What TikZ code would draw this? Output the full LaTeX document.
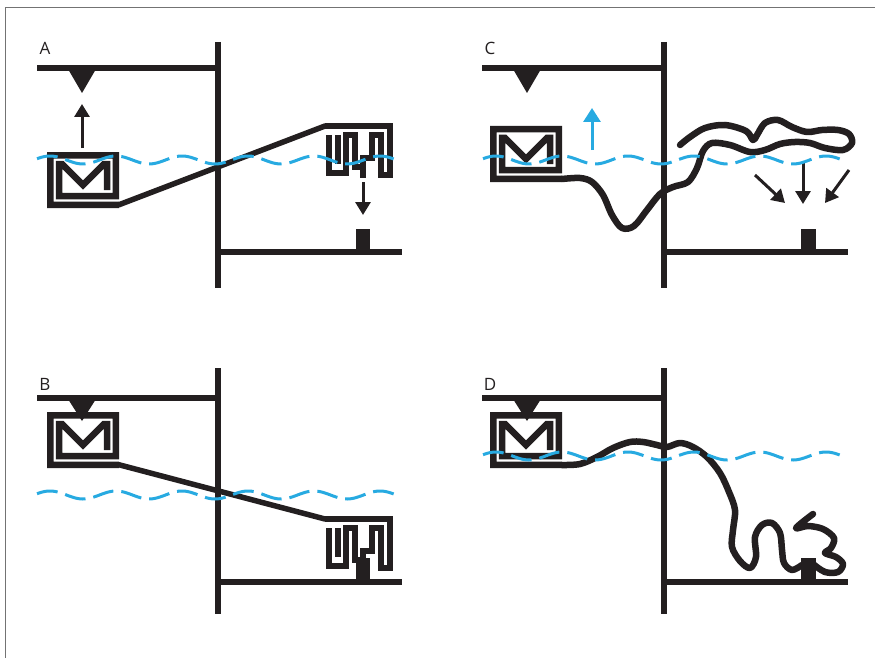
\documentclass[tikz,border=0pt]{standalone}
\usepackage{fontspec}
\setmainfont{Open Sans}
\usetikzlibrary{arrows.meta}
\definecolor{ink}{HTML}{231F20}
\definecolor{sea}{HTML}{27AAE1}
\tikzset{
  bar/.style={draw=ink, line width=6pt},
  tether/.style={draw=ink, line width=5.5pt, line cap=round},
  strand/.style={draw=ink, line width=6.5pt, line cap=round, line join=round},
  wave/.style={draw=sea, line width=3pt, dash pattern=on 21pt off 8pt},
  ink arrow/.style={draw=ink, line width=3pt, -{Triangle[length=13pt,width=15pt]}},
  sea arrow/.style={draw=sea, line width=3pt, -{Triangle[length=14pt,width=17pt]}},
  panel label/.style={font=\fontsize{17}{17}\selectfont, text=ink, inner sep=0pt},
  % folded domain with an M-shaped core, wound as one strip
  mglyph/.pic={
    \draw[ink, line width=6.5pt, line join=miter]
      (72,52.75) -- (3.25,52.75) -- (3.25,3.25) -- (68.75,3.25) -- (68.75,44)
      -- (12,44) -- (12,12) -- (15,12) -- (36,33) -- (57,12) -- (60,12) -- (60,38);
    \coordinate (-exit) at (72,52.75);
  },
  % folded meander domain
  wglyph/.pic={
    \draw[ink, line width=6pt]
      (0,3) -- (65,3) -- (65,52) -- (56,52) -- (56,12) -- (47,12)
      -- (47,35) -- (38,35) -- (38,55);
    \draw[ink, line width=6pt]
      (4,12) -- (4,50) -- (21,50) -- (21,12) -- (29.5,12) -- (29.5,44) -- (38,44);
    \draw[ink, line width=6pt] (12.5,12) -- (12.5,41);
    \coordinate (-in) at (0,3);
  }
}
\begin{document}
\begin{tikzpicture}[x=1pt,y=-1pt]
\useasboundingbox (0,0) rectangle (875,658);

% frame edges
\draw[black!55, line width=0.8pt] (5,658) -- (5,7) -- (875,7);

%% ---------------- panel A ----------------
\node[panel label] (labA) at (45,48) {A};
\coordinate (aTopL) at (37,68);  \coordinate (aTopR) at (218,68);
\coordinate (aWallT) at (218,42); \coordinate (aWallB) at (218,288);
\coordinate (aFloorL) at (218,252); \coordinate (aFloorR) at (402,252);
\draw[bar] (aTopL) -- (aTopR);
\draw[bar] (aWallT) -- (aWallB);
\draw[bar] (aFloorL) -- (aFloorR);
\fill[ink] (68,69) -- (96,69) -- (82,93) -- cycle;
\fill[ink] (356,229) rectangle (370,252);
\pic (mA) at (47,152) {mglyph};
\pic (wA) at (325,123) {wglyph};
\draw[tether] (mA-exit) -- (wA-in);
\coordinate (aUpS) at (82,148); \coordinate (aUpE) at (82,104);
\draw[ink arrow] (aUpS) -- (aUpE);
\coordinate (aDnS) at (363,182); \coordinate (aDnE) at (363,215);
\draw[ink arrow] (aDnS) -- (aDnE);
\draw[wave] plot[domain=37:400, samples=160, smooth] (\x,{160-4*cos((\x-50)*5.4545)});

%% ---------------- panel B ----------------
\node[panel label] (labB) at (45,384) {B};
\coordinate (bTopL) at (37,398);  \coordinate (bTopR) at (218,398);
\coordinate (bWallT) at (218,368); \coordinate (bWallB) at (218,614);
\coordinate (bFloorL) at (218,582); \coordinate (bFloorR) at (402,582);
\draw[bar] (bTopL) -- (bTopR);
\draw[bar] (bWallT) -- (bWallB);
\draw[bar] (bFloorL) -- (bFloorR);
\fill[ink] (356,558) rectangle (370,582);
\pic (mB) at (47,412) {mglyph};
\fill[ink] (68,399) -- (96,399) -- (82,421) -- cycle;
\pic (wB) at (325,516) {wglyph};
\draw[tether] (mB-exit) -- (wB-in);
\draw[wave] plot[domain=37:400, samples=160, smooth] (\x,{495-4*cos((\x-50)*5.4545)});

%% ---------------- panel C ----------------
\node[panel label] (labC) at (490,48) {C};
\coordinate (cTopL) at (482,68);  \coordinate (cTopR) at (664,68);
\coordinate (cWallT) at (664,42); \coordinate (cWallB) at (664,288);
\coordinate (cFloorL) at (664,252); \coordinate (cFloorR) at (848,252);
\draw[bar] (cTopL) -- (cTopR);
\draw[bar] (cWallT) -- (cWallB);
\draw[bar] (cFloorL) -- (cFloorR);
\fill[ink] (513,69) -- (541,69) -- (527,93) -- cycle;
\fill[ink] (801,229) rectangle (816,252);
\pic (mC) at (490,126) {mglyph};
\draw[strand] (mC-exit) plot[smooth, tension=0.55] coordinates {
  (562,179) (580,178) (592,182) (603,195) (612,215) (622,228) (634,226)
  (647,210) (660,194) (673,187) (688,182) (697,168) (703,151) (712,143)
  (730,145) (750,152) (765,150) (780,144) (795,142) (810,143) (825,148)
  (843,150) (852,143) (849,134) (838,130) (822,130) (807,132) (792,127)
  (778,120) (765,123) (757,135) (753,140) (746,131) (725,125) (705,128)
  (690,137) (680,145)};
\coordinate (cUpS) at (592,150); \coordinate (cUpE) at (592,108);
\draw[sea arrow] (cUpS) -- (cUpE);
\draw[ink arrow] (755,175) -- (785,203);
\draw[ink arrow] (803,162) -- (803,204);
\draw[ink arrow] (849,170) -- (825,203);
\draw[wave] plot[domain=483:846, samples=160, smooth] (\x,{160-4*cos((\x-496)*5.4545)});

%% ---------------- panel D ----------------
\node[panel label] (labD) at (490,384) {D};
\coordinate (dTopL) at (482,398);  \coordinate (dTopR) at (664,398);
\coordinate (dWallT) at (664,368); \coordinate (dWallB) at (664,614);
\coordinate (dFloorL) at (664,582); \coordinate (dFloorR) at (848,582);
\draw[bar] (dTopL) -- (dTopR);
\draw[bar] (dWallT) -- (dWallB);
\draw[bar] (dFloorL) -- (dFloorR);
\fill[ink] (801,558) rectangle (816,582);
\pic (mD) at (490,412) {mglyph};
\fill[ink] (513,399) -- (541,399) -- (527,421) -- cycle;
\draw[strand] (mD-exit) plot[smooth, tension=0.55] coordinates {
  (562,465) (580,464) (597,457) (613,448) (630,442) (643,442) (657,445)
  (667,447) (680,443) (693,447) (707,457) (720,473) (729,492) (735,510)
  (733,530) (732,547) (740,561) (750,568) (756,557) (755,537) (762,525)
  (772,523) (780,533) (782,550) (784,563) (792,570) (802,565)};
\draw[strand] plot[smooth, tension=0.55] coordinates {
  (813,564) (825,572) (838,572) (843,564) (836,557) (825,553) (831,548)
  (834,538) (823,529) (808,526) (796,528) (813,514)};
\draw[wave] plot[domain=483:846, samples=160, smooth] (\x,{456-4*cos((\x-496)*5.4545)});
\end{tikzpicture}
\end{document}
